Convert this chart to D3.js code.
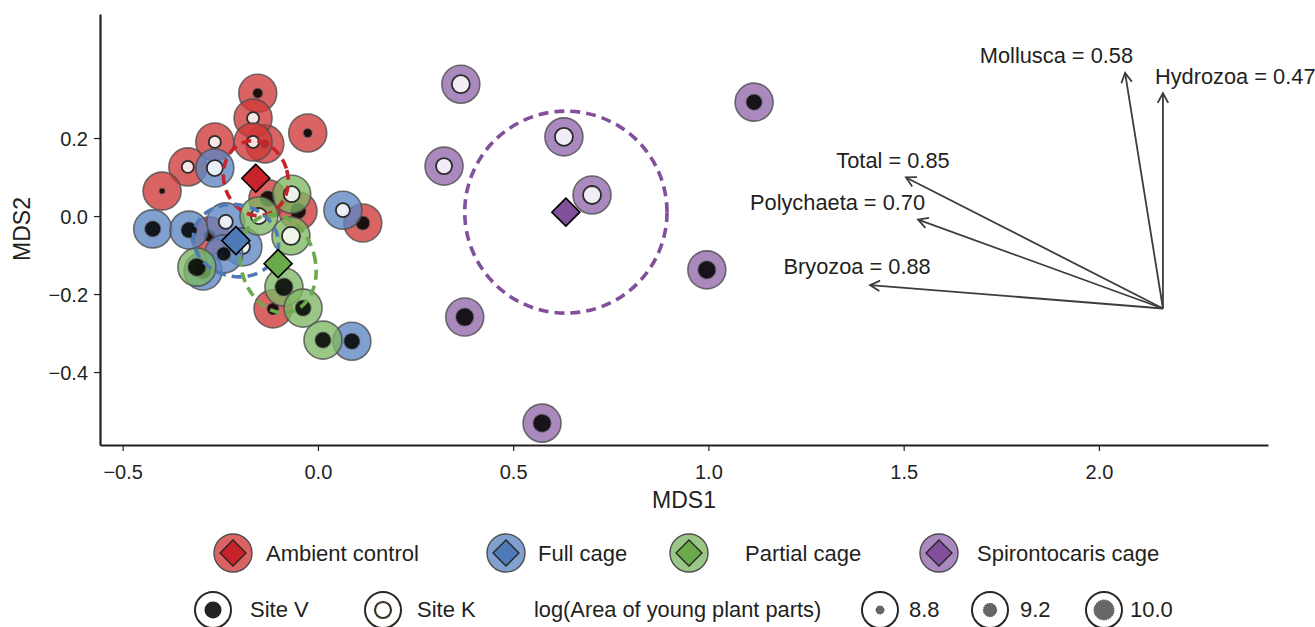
<!DOCTYPE html>
<html>
<head>
<meta charset="utf-8">
<script src="https://cdn.jsdelivr.net/npm/d3@7"></script>
<style>
  html, body { margin: 0; padding: 0; background: #fff; }
  svg text { font-family: "Liberation Sans", Arial, Helvetica, sans-serif; fill: #231f20; }
</style>
</head>
<body>
<svg id="chart" width="1315" height="627"></svg>
<script>
// ---- data ---------------------------------------------------------------
const treatments = ["Ambient control", "Full cage", "Partial cage", "Spirontocaris cage"];
const sites = ["Site V", "Site K"];

// samples: [MDS1, MDS2, site, log(area of young plant parts)]
const ambientControl = [
  [-0.154, 0.315, "V", 8.93],
  [-0.136, 0.185, "V", 8.86],
  [-0.166, 0.251, "K", 9.09],
  [-0.264, 0.190, "K", 9.09],
  [-0.166, 0.190, "K", 9.09],
  [-0.026, 0.213, "V", 8.86],
  [-0.333, 0.126, "K", 9.09],
  [-0.399, 0.064, "V", 8.70],
  [-0.277, -0.051, "V", 9.09],
  [-0.128, 0.044, "V", 9.49],
  [-0.051, 0.013, "V", 9.49],
  [0.115, -0.018, "V", 9.27],
  [-0.115, -0.238, "V", 9.09]
];
const fullCage = [
  [-0.264, 0.123, "K", 9.49],
  [-0.423, -0.033, "V", 9.49],
  [-0.330, -0.036, "V", 9.49],
  [-0.236, -0.015, "K", 9.27],
  [0.064, 0.015, "K", 9.27],
  [-0.192, -0.079, "K", 9.27],
  [-0.294, -0.141, "V", 9.49],
  [-0.241, -0.097, "V", 9.27],
  [0.087, -0.321, "V", 9.49]
];
const partialCage = [
  [-0.310, -0.131, "V", 9.73],
  [-0.087, -0.182, "V", 9.73],
  [-0.038, -0.236, "V", 9.49],
  [0.013, -0.318, "V", 9.49],
  [-0.067, 0.056, "K", 9.49],
  [-0.151, 0.000, "K", 9.49],
  [-0.069, -0.051, "K", 9.73]
];
const spirontocarisCage = [
  [0.366, 0.338, "K", 9.73],
  [0.630, 0.203, "K", 9.73],
  [0.323, 0.128, "K", 9.49],
  [0.702, 0.054, "K", 9.73],
  [1.117, 0.292, "V", 9.49],
  [0.996, -0.138, "V", 9.73],
  [0.376, -0.259, "V", 9.73],
  [0.574, -0.531, "V", 9.73]
];
const samplesByTreatment = [ambientControl, fullCage, partialCage, spirontocarisCage];

// treatment centroids [MDS1, MDS2]
const centroids = [
  [-0.159, 0.097],
  [-0.210, -0.063],
  [-0.102, -0.122],
  [0.635, 0.010]
];
// dispersion ellipses: [semi-axis along MDS1, semi-axis along MDS2, rotation in degrees]
const ellipseAxes = [
  [0.082, 0.097, -15],
  [0.110, 0.092, 13],
  [0.095, 0.128, -15],
  [0.259, 0.259, 0]
];

// fitted taxa vectors
const vectorNames = ["Mollusca", "Hydrozoa", "Total", "Polychaeta", "Bryozoa"];
const vectorR2 = [0.58, 0.47, 0.85, 0.70, 0.88];
const vectorOrigin = [2.164, -0.237];
const vectorTips = [
  [2.067, 0.367],
  [2.164, 0.315],
  [1.506, 0.099],
  [1.537, -0.009],
  [1.414, -0.177]
];

const xTicks = [-0.5, 0.0, 0.5, 1.0, 1.5, 2.0];
const yTicks = [-0.4, -0.2, 0.0, 0.2];
const sizeLegendValues = [8.8, 9.2, 10.0];

// ---- styling -----------------------------------------------------------
const fillColors = ["#cf3837", "#5c87c3", "#7eb763", "#9268ac"];
const solidColors = ["#c8232a", "#4f7ab8", "#6aaa4b", "#82509a"];
const ink = "#231f20";

const svg = d3.select("#chart");

const x = d3.scaleLinear().domain([-0.558, 2.433]).range([100, 1268]);
const y = d3.scaleLinear().domain([-0.587, 0.518]).range([445, 14]);
const innerR = d3.scaleRadial().domain([8.8, 10.0]).range([4, 10]);
const OUTER_R = 19;

const fmt = d => d3.format(".1f")(d).replace("-", "\u2212");

// ---- axes --------------------------------------------------------------
const gx = svg.append("g").attr("transform", "translate(0,445)")
  .call(d3.axisBottom(x).tickValues(xTicks).tickFormat(fmt).tickSize(6).tickSizeOuter(0));
const gy = svg.append("g").attr("transform", "translate(100,0)")
  .call(d3.axisLeft(y).tickValues(yTicks).tickFormat(fmt).tickSize(6).tickSizeOuter(0));

[gx, gy].forEach(g => {
  g.attr("font-family", null).attr("font-size", null);
  g.select(".domain").attr("stroke", ink).attr("stroke-width", 2.2);
  g.selectAll(".tick line").attr("stroke", ink).attr("stroke-width", 1.2);
  g.selectAll(".tick text").style("font-size", "20px").attr("fill", ink);
});
gx.selectAll(".tick text").attr("y", 20);
gy.selectAll(".tick text").attr("x", -12).attr("dy", "0.35em");

svg.append("text").attr("x", 684).attr("y", 508).attr("text-anchor", "middle")
  .style("font-size", "23px").text("MDS1");
svg.append("text").attr("transform", "translate(30,229) rotate(-90)").attr("text-anchor", "middle")
  .style("font-size", "23px").text("MDS2");

// ---- sample points -----------------------------------------------------
const pts = svg.append("g");
samplesByTreatment.forEach((rows, ti) => {
  rows.forEach(r => {
    const g = pts.append("g").attr("transform", `translate(${x(r[0])},${y(r[1])})`);
    g.append("circle").attr("r", OUTER_R)
      .attr("fill", fillColors[ti]).attr("fill-opacity", 0.78)
      .attr("stroke", "#4d4d4d").attr("stroke-opacity", 0.8).attr("stroke-width", 1.6);
    if (r[2] === "V") {
      g.append("circle").attr("r", innerR(r[3]))
        .attr("fill", "#000").attr("fill-opacity", 0.86)
        .attr("stroke", "#6a6a6a").attr("stroke-width", 1.2).attr("stroke-dasharray", "1.5,1");
    } else {
      g.append("circle").attr("r", innerR(r[3]))
        .attr("fill", "#fff").attr("fill-opacity", 0.84)
        .attr("stroke", "#2b2b2b").attr("stroke-width", 1.8);
    }
  });
});

// ---- dispersion ellipses -----------------------------------------------
const ell = svg.append("g");
centroids.forEach((c, i) => {
  const cx = x(c[0]), cy = y(c[1]);
  const rx = x(c[0] + ellipseAxes[i][0]) - cx;
  const ry = cy - y(c[1] + ellipseAxes[i][1]);
  ell.append("ellipse").attr("cx", cx).attr("cy", cy).attr("rx", rx).attr("ry", ry)
    .attr("transform", `rotate(${ellipseAxes[i][2]},${cx},${cy})`)
    .attr("fill", "none").attr("stroke", solidColors[i]).attr("stroke-width", 3.6)
    .attr("stroke-dasharray", "10,6");
});

// ---- centroids ---------------------------------------------------------
const diamond = h => `M0,${-h}L${h},0L0,${h}L${-h},0Z`;
centroids.forEach((c, i) => {
  svg.append("path").attr("d", diamond(14))
    .attr("transform", `translate(${x(c[0])},${y(c[1])})`)
    .attr("fill", solidColors[i]).attr("stroke", "#000").attr("stroke-width", 1.6)
    .attr("stroke-linejoin", "miter");
});

// ---- fitted vectors ----------------------------------------------------
const vec = svg.append("g").attr("stroke", "#3c3c3c").attr("stroke-width", 1.8).attr("fill", "none");
const labelPlacement = [
  { anchor: "end", dx: 8, dy: -10 },
  { anchor: "start", dx: -8, dy: -9 },
  { anchor: "middle", dx: -13, dy: -9.5 },
  { anchor: "end", dx: 7, dy: -9.5 },
  { anchor: "middle", dx: -13, dy: -11 }
];
const ox = x(vectorOrigin[0]), oy = y(vectorOrigin[1]);
vectorTips.forEach((t, i) => {
  const tx = x(t[0]), ty = y(t[1]);
  vec.append("line").attr("x1", ox).attr("y1", oy).attr("x2", tx).attr("y2", ty);
  const a = Math.atan2(ty - oy, tx - ox);
  const L = 11, s = 0.5;
  const p1 = [tx - L * Math.cos(a - s), ty - L * Math.sin(a - s)];
  const p2 = [tx - L * Math.cos(a + s), ty - L * Math.sin(a + s)];
  vec.append("path").attr("d", `M${p1[0]},${p1[1]}L${tx},${ty}L${p2[0]},${p2[1]}`)
    .attr("stroke-linejoin", "miter");
  const lp = labelPlacement[i];
  svg.append("text").attr("x", tx + lp.dx).attr("y", ty + lp.dy)
    .attr("text-anchor", lp.anchor).style("font-size", "21.8px")
    .text(`${vectorNames[i]} = ${vectorR2[i].toFixed(2)}`);
});

// ---- legend: treatments ------------------------------------------------
const legendTreat = [
  { cx: 233, tx: 266 },
  { cx: 506, tx: 538 },
  { cx: 689, tx: 745 },
  { cx: 939, tx: 977 }
];
treatments.forEach((name, i) => {
  const g = svg.append("g").attr("transform", `translate(${legendTreat[i].cx},553)`);
  g.append("circle").attr("r", OUTER_R).attr("fill", fillColors[i]).attr("fill-opacity", 0.78)
    .attr("stroke", "#4d4d4d").attr("stroke-width", 1.4);
  g.append("path").attr("d", diamond(13)).attr("fill", solidColors[i])
    .attr("stroke", "#222").attr("stroke-width", 1.3);
  svg.append("text").attr("x", legendTreat[i].tx).attr("y", 561)
    .style("font-size", "22px").text(name);
});

// ---- legend: sites -----------------------------------------------------
const legendSite = [{ cx: 213, tx: 250 }, { cx: 383, tx: 417 }];
sites.forEach((name, i) => {
  const g = svg.append("g").attr("transform", `translate(${legendSite[i].cx},610)`);
  g.append("circle").attr("r", 18).attr("fill", "#fff").attr("stroke", "#2b2622").attr("stroke-width", 2);
  if (i === 0) {
    g.append("circle").attr("r", 8.5).attr("fill", "#222");
  } else {
    g.append("circle").attr("r", 8).attr("fill", "#fff").attr("stroke", "#3d3222").attr("stroke-width", 2.2);
  }
  svg.append("text").attr("x", legendSite[i].tx).attr("y", 617)
    .style("font-size", "22px").text(name);
});

svg.append("text").attr("x", 534).attr("y", 617).style("font-size", "21.8px")
  .text("log(Area of young plant parts)");

// ---- legend: size ------------------------------------------------------
const legendSize = [{ cx: 880, tx: 909 }, { cx: 990, tx: 1020 }, { cx: 1104, tx: 1130 }];
sizeLegendValues.forEach((v, i) => {
  const g = svg.append("g").attr("transform", `translate(${legendSize[i].cx},610)`);
  g.append("circle").attr("r", 18).attr("fill", "#fff").attr("stroke", "#2b2622").attr("stroke-width", 2);
  g.append("circle").attr("r", innerR(v)).attr("fill", "#666")
    .attr("stroke", "#444").attr("stroke-width", 1).attr("stroke-dasharray", "1.5,1");
  svg.append("text").attr("x", legendSize[i].tx).attr("y", 617)
    .style("font-size", "22px").text(v.toFixed(1));
});
</script>
</body>
</html>
